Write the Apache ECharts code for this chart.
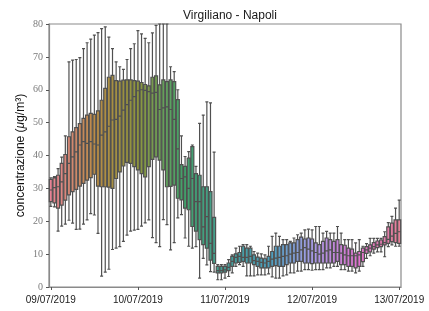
<!DOCTYPE html>
<html>
<head>
<meta charset="utf-8">
<script src="https://cdn.jsdelivr.net/npm/echarts@6/dist/echarts.min.js"></script>
<style>
html,body{margin:0;padding:0;background:#fff;}
#chart{width:429px;height:311px;}
</style>
</head>
<body>
<div id="chart"></div>
<script>
// Tick labels (days) – hourly categories from 09/07/2019 00:00 to 13/07/2019 00:00
const dayLabels = ['09/07/2019','10/07/2019','11/07/2019','12/07/2019','13/07/2019'];
const yTicks = [0,10,20,30,40,50,60,70,80];

// Hourly box statistics (µg/m³)
const whiskerLow = [
 24.5,24.4,17.0,18.5,19.1,20.3,19.4,17.5,17.6,19.1,20.4,22.3,21.9,16.3,3.3,4.5,5.4,11.4,11.8,12.3,
 13.9,15.8,17.0,17.3,17.5,18.5,19.5,20.4,15.0,13.5,12.3,20.5,19.0,11.3,13.5,21.0,22.0,14.9,12.4,11.8,
 12.3,2.7,8.7,6.7,4.7,4.5,2.2,2.2,2.7,3.2,4.3,6.3,6.8,6.3,3.4,3.4,3.4,3.7,3.7,3.7,
 4.0,3.1,2.7,2.7,3.4,3.7,4.3,4.3,4.8,4.8,5.3,5.3,5.1,5.3,5.3,5.3,5.8,5.8,6.3,6.3,
 5.3,5.3,4.8,4.8,4.3,4.8,6.3,8.7,9.5,10.3,10.7,10.7,9.2,12.3,12.8,12.4,12.4
];
const q1 = [
 26.0,25.6,24.0,24.9,26.4,28.0,29.0,29.7,30.7,31.5,32.5,33.3,34.3,30.7,30.5,30.5,30.4,30.0,33.0,35.0,
 36.8,37.9,37.6,36.6,35.6,34.5,33.5,36.6,38.8,39.6,38.6,35.6,30.5,30.6,31.0,27.0,26.5,24.0,23.5,18.4,
 17.0,14.4,12.9,11.8,8.2,7.2,4.3,4.3,4.5,5.0,6.3,7.3,7.5,7.8,7.3,7.3,6.8,6.3,5.8,5.8,
 5.8,6.3,6.5,6.3,6.3,6.8,7.3,7.3,7.8,7.8,7.3,7.3,7.1,7.3,7.3,7.3,7.3,7.3,7.3,7.8,
 6.8,6.8,6.3,6.3,5.8,6.3,7.7,10.2,10.7,11.5,12.0,12.3,12.8,13.3,13.8,13.5,13.3
];
const median = [
 29.5,30.2,30.5,32.0,34.5,37.6,39.6,41.1,43.2,44.2,43.7,44.2,43.5,43.2,46.2,47.2,48.9,50.8,51.0,52.0,
 53.8,55.5,56.8,57.9,59.7,60.0,59.8,59.4,59.0,59.2,54.0,54.5,54.8,54.0,51.0,42.0,33.0,33.5,30.0,33.0,
 26.0,26.0,18.3,21.4,13.3,10.2,5.0,5.0,5.2,6.0,7.8,9.0,9.3,9.0,9.0,9.3,8.0,7.8,7.5,7.3,
 7.8,8.5,8.8,9.0,9.3,9.5,10.0,10.3,10.5,11.3,12.0,11.5,11.0,10.5,10.0,10.3,11.0,11.3,10.5,10.5,
 10.3,9.8,9.5,9.5,9.5,9.8,10.5,11.3,11.8,12.3,12.8,13.0,13.5,14.5,15.5,16.3,16.8
];
const q3 = [
 32.7,33.2,34.0,37.6,40.3,45.7,47.2,48.5,49.7,51.3,52.3,52.8,52.5,53.6,56.8,60.4,63.8,64.4,62.8,62.6,
 62.9,63.0,63.0,62.8,62.6,62.2,61.6,61.2,63.8,64.2,61.5,63.0,62.5,63.0,62.5,57.0,37.2,36.7,39.2,42.7,
 34.5,34.0,30.5,30.5,29.0,21.2,6.3,6.3,6.3,7.3,9.3,10.1,10.5,12.4,11.8,11.8,9.8,9.1,8.8,8.6,
 9.3,10.8,12.4,12.4,12.9,12.9,13.4,13.4,14.4,15.2,14.6,14.9,14.6,13.4,12.9,13.9,14.9,14.4,13.9,14.4,
 12.9,12.7,11.8,11.5,10.3,10.8,11.8,12.3,12.8,13.5,14.0,14.3,15.3,18.3,19.4,20.4,20.4
];
const whiskerHigh = [
 33.2,33.6,36.0,39.5,46.0,68.5,69.0,69.2,69.8,72.5,74.3,75.4,76.6,77.4,78.6,79.1,76.0,72.5,68.5,67.0,
 66.2,69.2,72.5,74.0,78.0,77.0,75.6,74.3,77.3,79.6,80.0,80.0,80.0,67.0,65.5,60.0,46.0,39.7,41.2,43.2,
 36.7,49.8,52.3,56.3,56.0,41.0,6.8,6.8,6.8,8.3,9.8,11.8,12.4,12.9,12.9,12.4,10.8,10.3,10.1,9.8,
 12.4,15.4,16.4,15.4,14.4,14.4,13.9,14.9,15.9,16.4,17.4,17.6,17.4,18.4,18.4,16.4,16.9,16.4,16.4,18.4,
 16.4,14.4,14.4,14.4,13.4,14.4,12.4,13.2,14.8,14.8,14.8,14.8,16.8,19.6,21.5,24.0,26.4
];

// hourly categories
const categories = [];
for (let d = 0; d < dayLabels.length; d++) {
  const hours = d === dayLabels.length - 1 ? 1 : 24;
  for (let h = 0; h < hours; h++) {
    categories.push(dayLabels[d] + ' ' + String(h).padStart(2, '0') + ':00');
  }
}

// husl-like palette (seaborn), desaturated 0.75
const anchors = ['#f77189','#ce9032','#97a431','#32b166','#36ada4','#39a7d0','#a48cf4','#f561dd'];
function hex2rgb(h){return [parseInt(h.substr(1,2),16)/255,parseInt(h.substr(3,2),16)/255,parseInt(h.substr(5,2),16)/255];}
function rgb2hls(r,g,b){const mx=Math.max(r,g,b),mn=Math.min(r,g,b);const l=(mx+mn)/2;if(mx===mn)return[0,l,0];const d=mx-mn;const s=l<=0.5?d/(mx+mn):d/(2-mx-mn);let h;if(mx===r)h=((g-b)/d)%6;else if(mx===g)h=(b-r)/d+2;else h=(r-g)/d+4;h/=6;if(h<0)h+=1;return[h,l,s];}
function hue2(m1,m2,h){h=((h%1)+1)%1;if(h<1/6)return m1+(m2-m1)*h*6;if(h<0.5)return m2;if(h<2/3)return m1+(m2-m1)*(2/3-h)*6;return m1;}
function hls2rgb(h,l,s){if(s===0)return[l,l,l];const m2=l<=0.5?l*(1+s):l+s-l*s;const m1=2*l-m2;return[hue2(m1,m2,h+1/3),hue2(m1,m2,h),hue2(m1,m2,h-1/3)];}
function toHex(c){return '#'+c.map(v=>Math.round(Math.max(0,Math.min(1,v))*255).toString(16).padStart(2,'0')).join('');}
const n = categories.length;
const colors = [];
for (let i = 0; i < n; i++) {
  const t = i * anchors.length / n;
  const k = Math.floor(t), f = t - k;
  const a = hex2rgb(anchors[k]), b = hex2rgb(anchors[(k + 1) % anchors.length]);
  const c = a.map((v, j) => v + (b[j] - v) * f);
  const hls = rgb2hls(c[0], c[1], c[2]);
  colors.push(toHex(hls2rgb(hls[0], hls[1], hls[2] * 0.75)));
}

const boxData = categories.map((c, i) => ({
  value: [whiskerLow[i], q1[i], median[i], q3[i], whiskerHigh[i]],
  itemStyle: { color: colors[i] }
}));

const chart = echarts.init(document.getElementById('chart'), null, { renderer: 'canvas' });
chart.setOption({
  animation: false,
  backgroundColor: '#ffffff',
  title: {
    text: 'Virgiliano - Napoli',
    left: 225, top: 5, textAlign: 'center',
    textStyle: { fontFamily: 'Liberation Sans', fontSize: 12, fontWeight: 'normal', color: '#1a1a1a' }
  },
  grid: { left: 49, right: 28, top: 24, bottom: 24, show: true, borderColor: '#8a8a8a', borderWidth: 1.2, backgroundColor: 'transparent' },
  xAxis: {
    type: 'category',
    data: categories,
    boundaryGap: true,
    axisLine: { show: true, lineStyle: { color: '#8a8a8a', width: 1.2 } },
    axisTick: { show: true, alignWithLabel: true, length: 3, interval: (idx) => idx % 24 === 0, lineStyle: { color: '#555' } },
    axisLabel: {
      interval: (idx) => idx % 24 === 0,
      formatter: (v) => v.split(' ')[0],
      fontFamily: 'Liberation Sans', fontSize: 10, color: '#1a1a1a', margin: 8
    },
    splitLine: { show: false }
  },
  yAxis: {
    type: 'value',
    min: yTicks[0], max: yTicks[yTicks.length - 1], interval: 10,
    name: '{n|concentrazione (}{m|μ}{n|g/m³)}',
    nameLocation: 'middle', nameGap: 22, nameMoveOverlap: false,
    nameTextStyle: {
      rich: {
        n: { fontFamily: 'Liberation Sans', fontSize: 12, color: '#111' },
        m: { fontFamily: 'Liberation Sans', fontSize: 12, fontStyle: 'italic', color: '#111' }
      }
    },
    axisLine: { show: true, lineStyle: { color: '#8a8a8a', width: 1.2 } },
    axisTick: { show: true, length: 3, lineStyle: { color: '#555' } },
    axisLabel: { fontFamily: 'Liberation Serif', fontSize: 10, color: '#7a7a7a', margin: 6 },
    splitLine: { show: false }
  },
  series: [{
    type: 'boxplot',
    data: boxData,
    boxWidth: [3, 3],
    itemStyle: { borderColor: '#505050', borderWidth: 1.2 },
    emphasis: { disabled: true }
  }]
});
</script>
</body>
</html>
